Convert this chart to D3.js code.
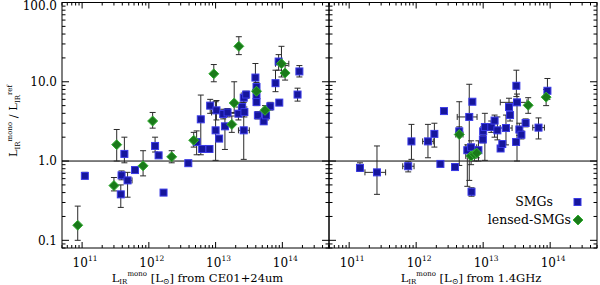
<!DOCTYPE html>
<html><head><meta charset="utf-8">
<script src="https://cdn.jsdelivr.net/npm/d3@7"></script>
<style>body{margin:0;background:#fff}svg{display:block}</style></head>
<body><svg id="c" width="600" height="285"></svg>
<script>
// ---------------- data ----------------
const yTickValues = [0.1, 1, 10, 100];
const yTickLabels = ["0.1", "1.0", "10.0", "100.0"];
const xTickValues = [1e11, 1e12, 1e13, 1e14];
const xTickExps = ["11", "12", "13", "14"];
const xLabelSuffix = [" from CE01+24um", " from 1.4GHz"];
const legendLabels = ["SMGs", "lensed-SMGs"];

// [L_mono, ratio, ratioLo, ratioHi, L_lo, L_hi]
const smgCE01 = [
  [1.1e11, 0.65, 0.60, 0.72], [3.8e11, 0.38, 0.26, 0.50], [3.9e11, 0.66, 0.58, 0.75],
  [4.3e11, 1.23, 0.95, 2.0], [4.8e11, 0.57, 0.35, 0.72, 4.6e11, 5.6e11], [6.2e11, 0.77, 0.72, 0.83],
  [1.24e12, 1.55, 1.3, 2.0], [1.4e12, 1.18, 1.1, 1.27], [1.66e12, 0.40, 0.38, 0.43],
  [3.9e12, 0.94, 0.90, 0.98], [5.2e12, 1.74, 1.2, 2.4], [6.0e12, 3.36, 1.2, 6.8],
  [6.3e12, 1.42, 1.35, 1.5], [8.1e12, 1.42, 1.35, 1.5], [8.3e12, 5.0, 4.0, 6.0],
  [1.0e13, 2.44, 1.02, 5.6], [1.03e13, 4.36, 3.3, 5.8], [1.13e13, 1.92, 1.8, 2.05],
  [1.3e13, 3.92, 3.4, 4.5], [1.38e13, 2.74, 1.4, 4.0], [1.51e13, 4.1, 3.6, 4.6, 8.7e12, 3.0e13],
  [2.2e13, 3.96, 3.3, 4.8], [2.5e13, 4.8, 4.2, 5.5], [2.64e13, 6.3, 5.5, 7.2],
  [2.64e13, 2.44, 1.05, 5.9, 2.2e13, 3.2e13], [2.87e13, 6.9, 6.2, 7.6], [2.7e13, 4.15, 3.6, 4.8],
  [3.95e13, 11.3, 8.0, 17.0], [4.1e13, 8.6, 7.5, 9.8], [4.1e13, 6.74, 6.0, 7.5],
  [4.1e13, 5.55, 5.0, 6.2], [4.3e13, 3.77, 3.4, 4.2], [5.25e13, 3.17, 2.9, 3.5],
  [5.7e13, 3.77, 3.3, 4.3], [6.6e13, 4.9, 4.4, 5.5], [7.9e13, 9.6, 7.5, 14.0],
  [8.8e13, 18.0, 14.0, 22.0], [9.0e13, 5.46, 5.1, 5.9], [1.69e14, 6.9, 5.7, 8.3],
  [1.8e14, 13.5, 11.5, 16.0]
];
const lensedCE01 = [
  [8.6e10, 0.155, 0.10, 0.27], [3.0e11, 0.49, 0.42, 0.62], [3.3e11, 1.61, 1.0, 2.5],
  [8.2e11, 0.87, 0.65, 1.35], [1.14e12, 3.2, 2.6, 4.1], [2.2e12, 1.13, 0.95, 1.35],
  [4.7e12, 1.83, 1.5, 2.3], [9.4e12, 12.6, 10.0, 16.5], [1.75e13, 2.9, 2.3, 3.7],
  [1.9e13, 5.4, 4.0, 10.0], [2.23e13, 28.0, 22.0, 37.0], [4.1e13, 7.6, 6.3, 9.0],
  [5.5e13, 4.36, 3.8, 5.0], [9.7e13, 16.9, 11.5, 28.0, 7.9e13, 1.25e14], [1.1e14, 12.9, 10.5, 16.0]
];
const smgRadio = [
  [1.45e11, 0.82, 0.74, 0.95], [2.6e11, 0.72, 0.38, 1.55, 1.72e11, 3.5e11],
  [7.6e11, 0.86, 0.73, 0.98, 6.3e11, 9.3e11], [8.5e11, 1.77, 1.05, 2.9],
  [1.5e12, 1.77, 1.1, 2.9, 1.25e12, 1.8e12], [1.87e12, 2.2, 1.5, 3.0],
  [2.6e12, 4.27, 4.0, 4.55], [2.3e12, 0.92, 0.85, 0.98], [3.8e12, 0.84, 0.77, 0.92],
  [4.4e12, 2.37, 2.1, 2.7], [6.2e12, 3.6, 0.57, 9.3, 4.1e12, 8.1e12], [5.8e12, 1.37, 0.48, 1.6],
  [6.6e12, 1.49, 1.2, 1.8, 5.5e12, 8.0e12], [6.9e12, 5.6, 5.2, 6.0], [6.7e12, 0.41, 0.36, 0.46],
  [8.5e12, 1.37, 1.0, 1.8], [9.9e12, 1.87, 1.7, 2.05], [1.0e13, 2.37, 2.1, 2.7],
  [1.06e13, 2.69, 1.02, 4.0], [1.32e13, 2.69, 2.3, 3.2], [1.48e13, 3.24, 2.0, 3.8],
  [1.63e13, 2.44, 1.85, 3.6], [1.82e13, 1.44, 1.35, 1.55], [1.93e13, 1.64, 1.5, 1.8],
  [2.19e13, 2.61, 1.6, 3.8, 1.8e13, 2.7e13], [2.43e13, 4.8, 3.8, 6.2], [2.52e13, 3.8, 3.2, 4.4],
  [3.1e13, 1.74, 1.6, 1.9], [3.13e13, 8.9, 6.5, 14.0], [3.2e13, 5.5, 1.0, 7.0, 1.8e13, 4.5e13],
  [3.47e13, 2.5, 2.1, 3.0], [3.72e13, 2.15, 1.9, 2.4], [4.3e13, 3.02, 2.7, 3.4],
  [6.7e13, 2.64, 1.9, 3.5, 5.5e13, 8.2e13], [9.1e13, 7.7, 6.0, 11.0]
];
const lensedRadio = [
  [4.4e12, 2.16, 0.88, 5.6, 3.9e12, 5.0e12], [6.6e12, 1.16, 0.9, 1.6, 5.5e12, 7.8e12],
  [7.4e12, 1.22, 1.0, 1.5], [8.0e12, 1.26, 1.1, 1.45], [4.7e13, 5.05, 4.0, 6.3],
  [8.7e13, 6.4, 5.0, 8.0]
];

// ---------------- layout ----------------
const FONT = "DejaVu Serif";
const yTop = 2.5, yBottom = 248;
const panels = [
  {x0: 62, x1: 329, smg: smgCE01, lensed: lensedCE01, suffix: xLabelSuffix[0], yLabels: true},
  {x0: 329, x1: 597, smg: smgRadio, lensed: lensedRadio, suffix: xLabelSuffix[1], yLabels: false}
];
const blueFill = "#16169c", blueStroke = "#3a3ae6";
const greenFill = "#1a7a1a", greenStroke = "#34b034";
const errColor = "#2a2a2a";
const DS = 5; // diamond half-size

const svg = d3.select("#c");
const y = d3.scaleLog().domain([0.08, 100]).range([yBottom, yTop]);

function minorTicks(lo, hi) {
  const out = [];
  for (let d = Math.floor(Math.log10(lo)); d <= Math.ceil(Math.log10(hi)); d++) {
    for (let k = 2; k <= 9; k++) {
      const v = k * Math.pow(10, d);
      if (v >= lo * 0.999 && v <= hi * 1.001) out.push(v);
    }
  }
  return out;
}

panels.forEach((p, i) => {
  const x = d3.scaleLog().domain([5e10, 5e14]).range([p.x0, p.x1]);
  const g = svg.append("g");
  const clipId = "clip" + i;
  svg.append("clipPath").attr("id", clipId).append("rect")
    .attr("x", p.x0).attr("y", yTop).attr("width", p.x1 - p.x0).attr("height", yBottom - yTop);

  g.append("rect").attr("x", p.x0).attr("y", yTop).attr("width", p.x1 - p.x0).attr("height", yBottom - yTop)
    .attr("fill", "none").attr("stroke", "#000").attr("stroke-width", 1);

  const tk = g.append("g").attr("stroke", "#000").attr("stroke-width", 1);
  const xMinor = minorTicks(5e10, 5e14);
  const yMinor = minorTicks(0.08, 100);
  const tick = (x1, y1, x2, y2) => tk.append("line").attr("x1", x1).attr("y1", y1).attr("x2", x2).attr("y2", y2);
  xTickValues.forEach(v => { const X = x(v); tick(X, yBottom, X, yBottom - 6); tick(X, yTop, X, yTop + 6); });
  xMinor.forEach(v => { const X = x(v); tick(X, yBottom, X, yBottom - 3); tick(X, yTop, X, yTop + 3); });
  yTickValues.forEach(v => { const Y = y(v); tick(p.x0, Y, p.x0 + 7, Y); tick(p.x1, Y, p.x1 - 7, Y); });
  yMinor.forEach(v => { const Y = y(v); tick(p.x0, Y, p.x0 + 3.5, Y); tick(p.x1, Y, p.x1 - 3.5, Y); });

  xTickValues.forEach((v, j) => {
    const t = g.append("text").attr("x", x(v) - 9.5).attr("y", 266.5)
      .attr("font-family", FONT).attr("font-size", 12).attr("fill", "#000");
    t.append("tspan").text("10");
    t.append("tspan").attr("font-size", 7.5).attr("dy", -5.5).text(xTickExps[j]);
  });

  if (p.yLabels) {
    yTickValues.forEach((v, j) => {
      g.append("text").attr("x", 57).attr("y", Math.max(y(v), 6) + 4.2)
        .attr("text-anchor", "end").attr("font-family", FONT).attr("font-size", 12)
        .text(yTickLabels[j]);
    });
  }

  const xl = g.append("text").attr("x", (p.x0 + p.x1) / 2 + (i === 0 ? 2 : 8)).attr("y", 281.5)
    .attr("text-anchor", "middle").attr("font-family", FONT).attr("font-size", 11.5);
  xl.append("tspan").text("L");
  xl.append("tspan").attr("font-size", 7).attr("dy", 2.5).text("IR");
  xl.append("tspan").attr("font-size", 7).attr("dy", -8).text("mono");
  xl.append("tspan").attr("dy", 5.5).text(" [L");
  xl.append("tspan").attr("font-size", 8).attr("dy", 2).text("\u2299");
  xl.append("tspan").attr("dy", -2).text("]" + p.suffix);

  g.append("line").attr("x1", p.x0).attr("x2", p.x1).attr("y1", y(1)).attr("y2", y(1))
    .attr("stroke", "#000").attr("stroke-width", 1);

  const pg = g.append("g").attr("clip-path", `url(#${clipId})`);
  const all = p.smg.concat(p.lensed);
  const eb = pg.append("g").attr("stroke", errColor).attr("stroke-width", 1).attr("fill", "none");
  all.forEach(d => {
    const X = x(d[0]);
    if (d[2] != null) {
      const ylo = y(d[2]), yhi = y(d[3]);
      eb.append("line").attr("x1", X).attr("x2", X).attr("y1", ylo).attr("y2", yhi);
      eb.append("line").attr("x1", X - 3).attr("x2", X + 3).attr("y1", ylo).attr("y2", ylo);
      eb.append("line").attr("x1", X - 3).attr("x2", X + 3).attr("y1", yhi).attr("y2", yhi);
    }
    if (d[4] != null) {
      const Y = y(d[1]), xlo = x(d[4]), xhi = x(d[5]);
      eb.append("line").attr("x1", xlo).attr("x2", xhi).attr("y1", Y).attr("y2", Y);
      eb.append("line").attr("x1", xlo).attr("x2", xlo).attr("y1", Y - 3).attr("y2", Y + 3);
      eb.append("line").attr("x1", xhi).attr("x2", xhi).attr("y1", Y - 3).attr("y2", Y + 3);
    }
  });
  pg.append("g").selectAll("rect").data(p.smg).join("rect")
    .attr("x", d => x(d[0]) - 3.5).attr("y", d => y(d[1]) - 3.5).attr("width", 7).attr("height", 7)
    .attr("fill", blueFill).attr("stroke", blueStroke).attr("stroke-width", 1);
  pg.append("g").selectAll("path").data(p.lensed).join("path")
    .attr("d", d => { const X = x(d[0]), Y = y(d[1]); return `M${X},${Y-DS}L${X+DS},${Y}L${X},${Y+DS}L${X-DS},${Y}Z`; })
    .attr("fill", greenFill).attr("stroke", greenStroke).attr("stroke-width", 1);
});

const yl = svg.append("text").attr("transform", "translate(17,121) rotate(-90)")
  .attr("text-anchor", "middle").attr("font-family", FONT).attr("font-size", 11.5);
yl.append("tspan").text("L");
yl.append("tspan").attr("font-size", 7).attr("dy", 2.5).text("IR");
yl.append("tspan").attr("font-size", 7).attr("dy", -8).text("mono");
yl.append("tspan").attr("dy", 5.5).text(" / L");
yl.append("tspan").attr("font-size", 7).attr("dy", 2.5).text("IR");
yl.append("tspan").attr("font-size", 7).attr("dy", -8).text("ref");

svg.append("text").attr("x", 553).attr("y", 206).attr("text-anchor", "end")
  .attr("font-family", FONT).attr("font-size", 12.5).text(legendLabels[0]);
svg.append("rect").attr("x", 574).attr("y", 198.5).attr("width", 7).attr("height", 7)
  .attr("fill", blueFill).attr("stroke", blueStroke);
svg.append("text").attr("x", 571).attr("y", 224).attr("text-anchor", "end")
  .attr("font-family", FONT).attr("font-size", 12.5).text(legendLabels[1]);
svg.append("path").attr("d", `M578,${220-DS}L${578+DS},220L578,${220+DS}L${578-DS},220Z`)
  .attr("fill", greenFill).attr("stroke", greenStroke);
</script></body></html>
